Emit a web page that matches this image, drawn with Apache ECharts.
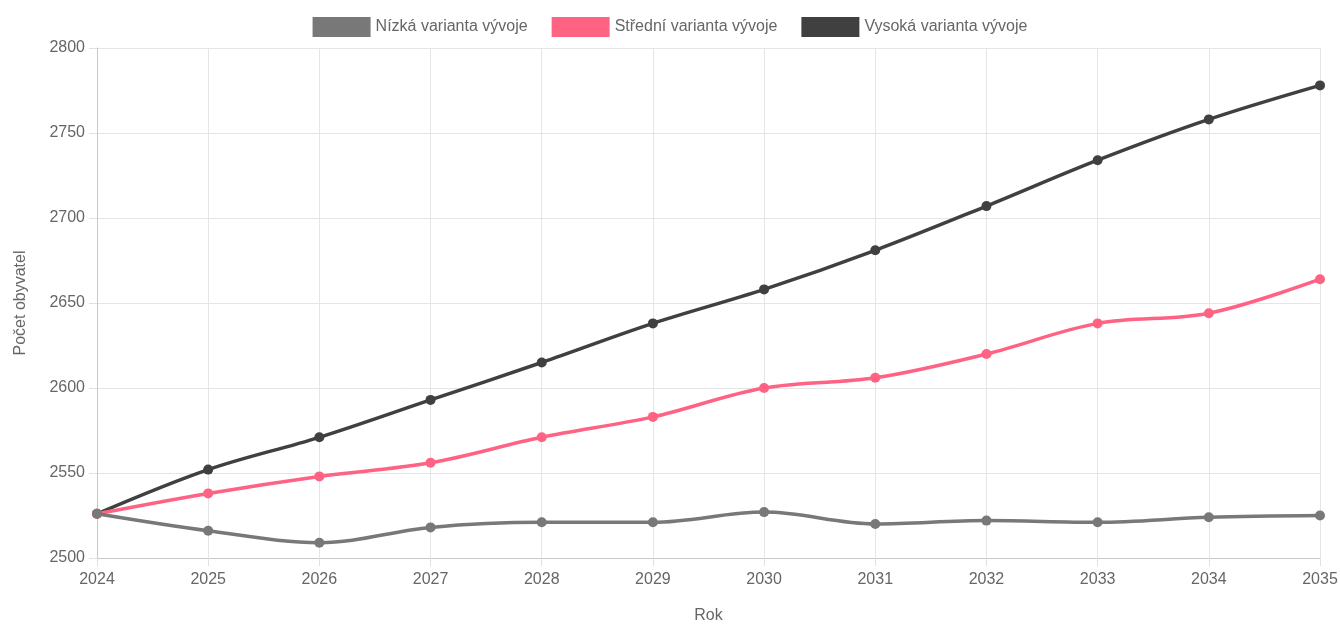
<!DOCTYPE html>
<html>
<head>
<meta charset="utf-8">
<script src="https://cdn.jsdelivr.net/npm/echarts@6/dist/echarts.min.js"></script>
<style>
html,body{margin:0;padding:0;background:#fff;}
#c{width:1340px;height:625px;}
</style>
</head>
<body>
<div id="c"></div>
<script>
const years = ['2024','2025','2026','2027','2028','2029','2030','2031','2032','2033','2034','2035'];
const nizka = [2526, 2516, 2509, 2518, 2521, 2521, 2527, 2520, 2522, 2521, 2524, 2525];
const stredni = [2526, 2538, 2548, 2556, 2571, 2583, 2600, 2606, 2620, 2638, 2644, 2664];
const vysoka = [2526, 2552, 2571, 2593, 2615, 2638, 2658, 2681, 2707, 2734, 2758, 2778];
const seriesNames = ['Nízká varianta vývoje', 'Střední varianta vývoje', 'Vysoká varianta vývoje'];

const font = 'Liberation Sans, Arial, sans-serif';
const chart = echarts.init(document.getElementById('c'), null, {renderer: 'canvas'});
function mk(name, data, color, z) {
  return {
    name: name, type: 'line', data: data, smooth: 0.35,
    symbol: 'circle', symbolSize: 10, z: z,
    lineStyle: {color: color, width: 3.5},
    itemStyle: {color: color},
    emphasis: {disabled: true}
  };
}
chart.setOption({
  animation: false,
  textStyle: {fontFamily: font},
  legend: {
    top: 12, left: 'center',
    itemWidth: 58, itemHeight: 20, itemGap: 24,
    icon: 'rect',
    textStyle: {color: '#666', fontSize: 16, fontFamily: font},
    data: seriesNames
  },
  grid: {left: 97, right: 20, top: 48, bottom: 67, containLabel: false, outerBoundsMode: 'none'},
  xAxis: {
    type: 'category', data: years, boundaryGap: false,
    name: 'Rok', nameLocation: 'middle', nameGap: 50,
    nameTextStyle: {color: '#666', fontSize: 16},
    axisLine: {lineStyle: {color: '#c8c8c8'}},
    axisTick: {show: true, length: 8, lineStyle: {color: '#e0e0e0'}},
    axisLabel: {color: '#666', fontSize: 16, margin: 14},
    splitLine: {show: true, lineStyle: {color: '#e5e5e5'}}
  },
  yAxis: {
    type: 'value', min: 2500, max: 2800, interval: 50,
    name: 'Počet obyvatel', nameLocation: 'middle', nameGap: 68, nameRotate: 90,
    nameTextStyle: {color: '#666', fontSize: 16},
    axisLine: {show: true, lineStyle: {color: '#c8c8c8'}},
    axisTick: {show: true, length: 8, lineStyle: {color: '#e0e0e0'}},
    axisLabel: {color: '#666', fontSize: 16, margin: 12, formatter: function (v) { return String(v); }},
    splitLine: {show: true, lineStyle: {color: '#e5e5e5'}}
  },
  series: [
    mk(seriesNames[0], nizka, '#787878', 5),
    mk(seriesNames[1], stredni, '#ff6384', 4),
    mk(seriesNames[2], vysoka, '#404040', 3)
  ]
});
</script>
</body>
</html>
